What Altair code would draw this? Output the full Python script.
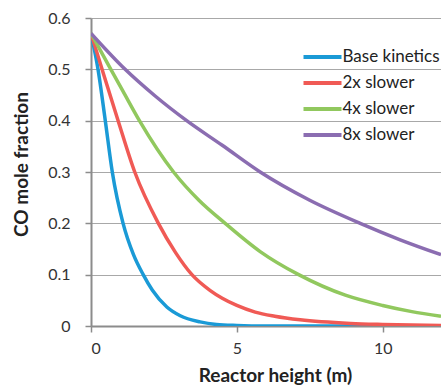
import altair as alt
import pandas as pd

series_names = ["Base kinetics", "2x slower", "4x slower", "8x slower"]
series_colors = ["#1a9ad6", "#f05a55", "#91c85e", "#8b6db1"]

base_x = [0, 0.24, 0.49, 0.73, 1.10, 1.45, 1.79, 2.1, 2.6, 3.06, 3.74, 4.3, 5.0, 6.0, 8.0, 12.0]
base_y = [0.57, 0.50, 0.40, 0.30, 0.20, 0.14, 0.10, 0.07, 0.037, 0.020, 0.008, 0.003, 0.001, 0.0, 0.0, 0.0]

slow2_x = [0, 0.38, 0.93, 1.50, 2.31, 2.9, 3.46, 4.09, 4.5, 5.0, 5.63, 6.3, 7.17, 8.9, 10, 12]
slow2_y = [0.57, 0.50, 0.40, 0.30, 0.20, 0.143, 0.10, 0.069, 0.054, 0.040, 0.027, 0.019, 0.012, 0.005, 0.003, 0.001]

slow4_x = [0, 0.68, 1.1, 1.66, 2.83, 3.7, 4.60, 5.8, 7.12, 8.72, 10, 11, 12]
slow4_y = [0.57, 0.50, 0.457, 0.40, 0.30, 0.245, 0.20, 0.145, 0.10, 0.060, 0.040, 0.028, 0.019]

slow8_x = [0, 1.17, 2.2, 3.28, 4.5, 5.80, 7.5, 9.23, 10.6, 12]
slow8_y = [0.57, 0.50, 0.448, 0.40, 0.352, 0.30, 0.245, 0.20, 0.168, 0.139]

rows = []
for name, xs, ys in zip(series_names,
                        [base_x, slow2_x, slow4_x, slow8_x],
                        [base_y, slow2_y, slow4_y, slow8_y]):
    for x, y in zip(xs, ys):
        rows.append({"series": name, "x": x, "y": y})
df = pd.DataFrame(rows)

FONT = "Lato"

chart = alt.Chart(df).mark_line(strokeWidth=3.5, interpolate="monotone", clip=True).encode(
    x=alt.X("x:Q", scale=alt.Scale(domain=[0, 12], nice=False),
            axis=alt.Axis(title="Reactor height (m)", values=[0, 5, 10], format="d",
                          grid=False, tickSize=6, labelPadding=8,
                          titleX=184, titleY=55, titleBaseline="alphabetic",
                          titleAnchor="middle", titleAlign="center")),
    y=alt.Y("y:Q", scale=alt.Scale(domain=[0, 0.6], nice=False),
            axis=alt.Axis(title="CO mole fraction", values=[0, 0.1, 0.2, 0.3, 0.4, 0.5, 0.6],
                          format=".1~f", tickSize=6, labelPadding=15,
                          titleX=-64, titleY=146, titleBaseline="alphabetic",
                          titleAngle=270, titleAlign="center")),
    color=alt.Color("series:N", sort=series_names,
                    scale=alt.Scale(domain=series_names, range=series_colors),
                    legend=alt.Legend(title=None, orient="none", legendX=220, legendY=27.5,
                                      symbolType="M-2,0H2", symbolSize=361,
                                      symbolStrokeWidth=4, labelOffset=8.5,
                                      rowPadding=6, padding=0,
                                      labelFont=FONT, labelFontSize=17, labelColor="#222222")),
).properties(
    width=350, height=308,
    autosize=alt.AutoSizeParams(type="none"),
    padding={"left": 91, "top": 18, "right": 0, "bottom": 60},
).configure_view(stroke=None).configure_axis(
    labelFont=FONT, labelFontSize=16, labelColor="#333333",
    titleFont=FONT, titleFontSize=19, titleFontWeight="bold", titleColor="#222222",
    domainColor="#8c8c8c", domainWidth=2, tickColor="#8c8c8c", tickWidth=1.5,
    gridColor="#a8a8a8", gridWidth=1.2,
)

chart.save("out.html", embed_options={"renderer": "svg", "actions": False})
